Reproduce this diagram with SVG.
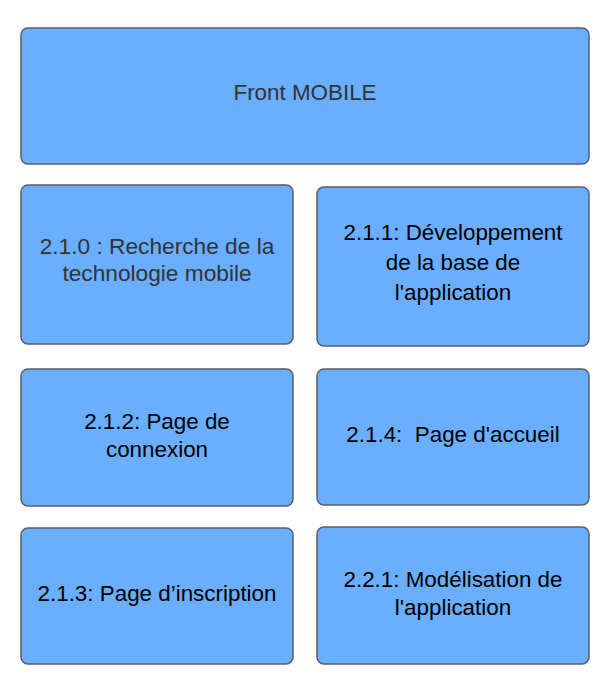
<svg xmlns="http://www.w3.org/2000/svg" width="608" height="687" viewBox="0 0 608 687">
  <style>
    .box { fill: #6aaeff; stroke: #5a5e66; stroke-width: 1.5; }
    .lbl { font-family: "Liberation Sans", Arial, sans-serif; font-size: 22.4px; text-anchor: middle; fill: #000; white-space: pre; }
    .soft { fill: #333; }
    .wide { font-size: 22.7px; }
  </style>
  <rect width="608" height="687" fill="#ffffff"/>

  <g id="front-mobile">
    <rect class="box" x="21" y="28" width="568" height="136" rx="7"/>
    <text class="lbl soft" x="305" y="100">Front MOBILE</text>
  </g>

  <g id="task-2-1-0">
    <rect class="box" x="21" y="185" width="272" height="159" rx="7"/>
    <text class="lbl soft wide" x="157" y="254">2.1.0 : Recherche de la</text>
    <text class="lbl soft wide" x="157" y="280.5">technologie mobile</text>
  </g>

  <g id="task-2-1-1">
    <rect class="box" x="317" y="187" width="272" height="159" rx="7"/>
    <text class="lbl" x="453" y="240">2.1.1: Développement</text>
    <text class="lbl" x="453" y="270">de la base de</text>
    <text class="lbl" x="453" y="300">l'application</text>
  </g>

  <g id="task-2-1-2">
    <rect class="box" x="21" y="369" width="272" height="137" rx="7"/>
    <text class="lbl" x="157" y="428.5">2.1.2: Page de</text>
    <text class="lbl" x="157" y="457">connexion</text>
  </g>

  <g id="task-2-1-4">
    <rect class="box" x="317" y="369" width="272" height="136" rx="7"/>
    <text class="lbl" x="453" y="442" xml:space="preserve">2.1.4:  Page d'accueil</text>
  </g>

  <g id="task-2-1-3">
    <rect class="box" x="21" y="528" width="272" height="136" rx="7"/>
    <text class="lbl" x="157" y="601">2.1.3: Page d’inscription</text>
  </g>

  <g id="task-2-2-1">
    <rect class="box" x="317" y="527" width="272" height="137" rx="7"/>
    <text class="lbl" x="453" y="587">2.2.1: Modélisation de</text>
    <text class="lbl" x="453" y="615">l'application</text>
  </g>

  <g id="connectors"/>
</svg>
